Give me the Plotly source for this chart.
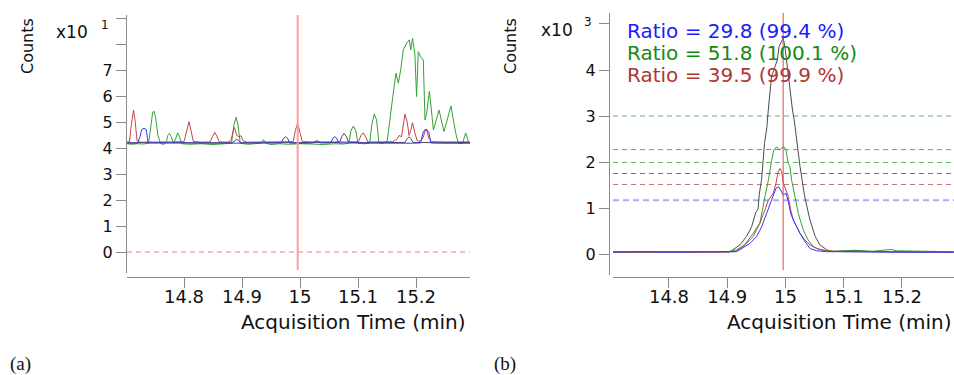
import plotly.graph_objects as go

# ---------------------------------------------------------------- data
# Panel (a): extracted ion chromatograms, Counts x10^1, time in minutes
a_black_t = [14.702, 14.74, 14.78, 14.82, 14.86, 14.884, 14.888, 14.891, 14.894, 14.898, 14.93,
             14.97, 15.01, 15.05, 15.068, 15.072, 15.076, 15.080, 15.084, 15.12, 15.16, 15.181,
             15.185, 15.188, 15.191, 15.195, 15.24, 15.293]
a_black_v = [4.22, 4.23, 4.22, 4.22, 4.23, 4.22, 4.30, 4.35, 4.30, 4.22, 4.22,
             4.23, 4.22, 4.22, 4.23, 4.45, 4.58, 4.45, 4.23, 4.22, 4.22, 4.23,
             4.38, 4.45, 4.38, 4.23, 4.22, 4.23]

a_blue_t = [14.702, 14.72, 14.724, 14.727, 14.731, 14.735, 14.738, 14.76, 14.80, 14.85, 14.90,
            14.94, 14.968, 14.971, 14.975, 14.979, 14.982, 15.00, 15.022, 15.026, 15.029, 15.032,
            15.036, 15.053, 15.057, 15.060, 15.063, 15.067, 15.10, 15.15, 15.19, 15.208, 15.212,
            15.215, 15.219, 15.222, 15.226, 15.25, 15.293]
a_blue_v = [4.20, 4.20, 4.45, 4.72, 4.78, 4.72, 4.21, 4.20, 4.21, 4.20, 4.21,
            4.20, 4.21, 4.38, 4.45, 4.38, 4.21, 4.20, 4.21, 4.27, 4.30, 4.27,
            4.21, 4.21, 4.40, 4.45, 4.40, 4.21, 4.20, 4.21, 4.20, 4.21, 4.60,
            4.72, 4.72, 4.62, 4.21, 4.20, 4.20]

a_green_t = [14.702, 14.71, 14.72, 14.73, 14.739, 14.743, 14.746, 14.748, 14.751, 14.755, 14.760,
             14.766, 14.770, 14.772, 14.775, 14.778, 14.782, 14.786, 14.789, 14.792, 14.796,
             14.81, 14.83, 14.85, 14.87, 14.882, 14.886, 14.890, 14.893, 14.897, 14.91, 14.925,
             14.933, 14.937, 14.941, 14.95, 14.965, 14.98, 15.00, 15.02, 15.04, 15.06, 15.075,
             15.084, 15.088, 15.092, 15.096, 15.100, 15.11, 15.120, 15.124, 15.128, 15.132,
             15.136, 15.142, 15.1505, 15.155, 15.160, 15.1655, 15.1695, 15.1736, 15.178, 15.184,
             15.1884, 15.191, 15.194, 15.198, 15.201, 15.204, 15.208, 15.2126, 15.2155, 15.2184,
             15.223, 15.226, 15.230, 15.2397, 15.2483, 15.2603, 15.2684, 15.273, 15.280, 15.2857,
             15.291]
a_green_v = [4.18, 4.16, 4.18, 4.17, 4.20, 4.90, 5.40, 5.44, 5.20, 4.50, 4.18,
             4.16, 4.30, 4.50, 4.58, 4.45, 4.20, 4.40, 4.60, 4.45, 4.18,
             4.16, 4.18, 4.15, 4.18, 4.20, 4.90, 5.20, 4.90, 4.20, 4.16, 4.18,
             4.20, 4.34, 4.20, 4.15, 4.18, 4.16, 4.18, 4.17, 4.15, 4.18, 4.17,
             4.20, 4.70, 4.86, 4.70, 4.20, 4.18, 4.20, 4.95, 5.32, 5.10,
             4.22, 4.18, 4.30, 5.17, 6.00, 6.90, 6.52, 7.03, 7.80, 8.07,
             8.19, 7.80, 8.25, 7.67, 6.00, 7.73, 7.54, 7.41, 5.10, 5.36,
             6.20, 5.60, 4.71, 5.48, 4.65, 5.64, 4.60, 4.20, 4.18, 4.60,
             4.20]

a_red_t = [14.702, 14.706, 14.709, 14.713, 14.716, 14.719, 14.725, 14.74, 14.76, 14.78, 14.800,
           14.804, 14.8086, 14.812, 14.816, 14.83, 14.845, 14.849, 14.853, 14.857, 14.861,
           14.875, 14.881, 14.885, 14.887, 14.891, 14.895, 14.898, 14.902, 14.908, 14.93, 14.95,
           14.97, 14.988, 14.992, 14.996, 15.000, 15.004, 15.02, 15.04, 15.06, 15.08, 15.101,
           15.105, 15.109, 15.113, 15.117, 15.14, 15.16, 15.167, 15.171, 15.175, 15.178, 15.181,
           15.185, 15.188, 15.191, 15.194, 15.198, 15.202, 15.207, 15.212, 15.216, 15.218, 15.222,
           15.226, 15.25, 15.27, 15.293]
a_red_v = [4.25, 4.26, 4.90, 5.48, 5.00, 4.30, 4.24, 4.25, 4.24, 4.25, 4.26,
           4.60, 5.03, 4.70, 4.27, 4.24, 4.25, 4.45, 4.62, 4.45, 4.25,
           4.24, 4.30, 4.70, 4.80, 4.50, 4.45, 4.49, 4.30, 4.24, 4.25, 4.24,
           4.25, 4.26, 4.70, 4.97, 4.60, 4.26, 4.25, 4.24, 4.25, 4.25, 4.26,
           4.50, 4.60, 4.45, 4.25, 4.25, 4.26, 4.35, 4.50, 4.45, 4.90, 5.32,
           5.00, 4.50, 4.70, 4.99, 4.60, 4.30, 4.27, 4.40, 4.70, 4.74, 4.40,
           4.26, 4.25, 4.24, 4.25]

# Panel (b): quantifier and qualifier ions, Counts x10^3
b_black_t = [14.704, 14.75, 14.80, 14.85, 14.905, 14.922, 14.928, 14.933, 14.939, 14.942, 14.949,
             14.953, 14.955, 14.959, 14.964, 14.968, 14.9705, 14.976, 14.982, 14.986, 14.989,
             14.9935, 14.996, 14.999, 15.003, 15.008, 15.012, 15.015, 15.019, 15.025, 15.033,
             15.042, 15.051, 15.059, 15.071, 15.082, 15.10, 15.12, 15.15, 15.20, 15.25, 15.289]
b_black_v = [0.04, 0.04, 0.05, 0.04, 0.05, 0.20, 0.30, 0.38, 0.52, 0.60, 0.90,
             0.98, 1.30, 1.62, 2.40, 2.75, 3.13, 3.85, 4.07, 4.22, 4.51,
             4.62, 4.69, 4.51, 4.07, 3.57, 3.13, 2.91, 2.50, 1.90, 1.25,
             0.74, 0.38, 0.20, 0.09, 0.05, 0.07, 0.08, 0.05, 0.05, 0.04, 0.04]

b_green_t = [14.704, 14.75, 14.80, 14.85, 14.90, 14.916, 14.933, 14.9447, 14.956, 14.9648,
             14.9705, 14.9763, 14.980, 14.985, 14.989, 14.9935, 14.9974, 15.0009, 15.0048,
             15.0077, 15.0106, 15.0163, 15.022, 15.0306, 15.0391, 15.0477, 15.0592, 15.08, 15.11,
             15.15, 15.175, 15.182, 15.19, 15.22, 15.25, 15.289]
b_green_v = [0.05, 0.05, 0.04, 0.05, 0.05, 0.09, 0.23, 0.38, 0.67, 1.25,
             1.60, 2.04, 2.26, 2.33, 2.26, 2.30, 2.33, 2.26, 1.97,
             1.90, 1.60, 1.25, 0.88, 0.52, 0.30, 0.16, 0.09, 0.06, 0.07,
             0.06, 0.08, 0.10, 0.07, 0.06, 0.05, 0.05]

b_red_t = [14.704, 14.75, 14.80, 14.85, 14.90, 14.915, 14.9276, 14.9447, 14.956, 14.9648,
           14.9705, 14.979, 14.9837, 14.9876, 14.9906, 14.9935, 14.9962, 15.0009, 15.0048,
           15.009, 15.0134, 15.0192, 15.0249, 15.0335, 15.042, 15.0536, 15.07, 15.10, 15.15,
           15.20, 15.25, 15.289]
b_red_v = [0.04, 0.04, 0.04, 0.04, 0.04, 0.06, 0.16, 0.45, 0.67, 0.96,
           1.17, 1.32, 1.54, 1.79, 1.86, 1.79, 1.54, 1.39, 1.25,
           0.96, 0.74, 0.59, 0.45, 0.30, 0.20, 0.12, 0.07, 0.05, 0.05,
           0.04, 0.04, 0.04]

b_blue_t = [14.704, 14.75, 14.80, 14.85, 14.90, 14.916, 14.939, 14.9505, 14.959, 14.9677,
            14.9734, 14.979, 14.9837, 14.9876, 14.9918, 14.9962, 15.0009, 15.0048, 15.009,
            15.0134, 15.0192, 15.0249, 15.0335, 15.042, 15.0536, 15.07, 15.10, 15.15, 15.20,
            15.25, 15.289]
b_blue_v = [0.04, 0.05, 0.04, 0.04, 0.04, 0.05, 0.23, 0.38, 0.59, 0.88,
            1.10, 1.25, 1.43, 1.46, 1.39, 1.28, 1.32, 1.14, 0.88,
            0.74, 0.59, 0.45, 0.27, 0.12, 0.07, 0.05, 0.05, 0.04, 0.04,
            0.04, 0.04]

retention_time = 14.996

# Qualifier tolerance windows (x10^3 counts) and ion-ratio captions
limit_green = [3.00, 1.99]
limit_red = [2.27, 1.51]
limit_blue = [1.75, 1.17]
ratio_labels = ["Ratio = 29.8 (99.4 %)", "Ratio = 51.8 (100.1 %)", "Ratio = 39.5 (99.9 %)"]

a_yticks = [0, 1, 2, 3, 4, 5, 6, 7, 8, 9]
a_yticktext = ["0", "1", "2", "3", "4", "5", "6", "7", "", ""]
b_yticks = [0, 1, 2, 3, 4, 5]
b_yticktext = ["0", "1", "2", "3", "4", ""]
xticks = [14.8, 14.9, 15.0, 15.1, 15.2]
xticktext = ["14.8", "14.9", "15", "15.1", "15.2"]

# ---------------------------------------------------------------- styling
W, H = 954, 375
BLACK = "#4a4a4a"
BLUE = "#3535ff"
GREEN = "#35a035"
RED = "#c04545"
AXIS = "#8a8a8a"
SANS = "DejaVu Sans"


def fx(p):
    return p / W


def fy(p):
    return 1 - p / H


fig = go.Figure()


def add_line(t, v, color, xa, ya, width=1.0):
    fig.add_trace(go.Scatter(x=t, y=v, mode="lines", xaxis=xa, yaxis=ya,
                             line=dict(color=color, width=width), hoverinfo="skip",
                             showlegend=False))


# panel (a)
add_line(a_green_t, a_green_v, GREEN, "x", "y")
add_line(a_red_t, a_red_v, RED, "x", "y")
add_line(a_black_t, a_black_v, BLACK, "x", "y")
add_line(a_blue_t, a_blue_v, BLUE, "x", "y")

# panel (b)
add_line(b_black_t, b_black_v, BLACK, "x2", "y2")
add_line(b_green_t, b_green_v, GREEN, "x2", "y2")
add_line(b_red_t, b_red_v, RED, "x2", "y2")
add_line(b_blue_t, b_blue_v, BLUE, "x2", "y2")

shapes = []
# panel (a): zero reference and retention-time marker
shapes.append(dict(type="line", xref="x domain", yref="y", x0=0, x1=1, y0=0, y1=0,
                   line=dict(color="#e08585", width=1, dash="5px,4px"), layer="below"))
shapes.append(dict(type="line", xref="x", yref="y", x0=retention_time, x1=retention_time,
                   y0=-0.695, y1=9.15, line=dict(color="#ff9c9c", width=2)))

# panel (b): tolerance windows
for val in limit_green:
    shapes.append(dict(type="line", xref="x2 domain", yref="y2", x0=0, x1=1, y0=val, y1=val,
                       line=dict(color="#5cb85c", width=1, dash="5px,4px"), layer="below"))
for val in limit_red:
    shapes.append(dict(type="line", xref="x2 domain", yref="y2", x0=0, x1=1, y0=val, y1=val,
                       line=dict(color="#d07070", width=1, dash="5px,4px"), layer="below"))
shapes.append(dict(type="line", xref="x2 domain", yref="y2", x0=0, x1=1, y0=limit_blue[0],
                   y1=limit_blue[0], line=dict(color="#6060ff", width=1, dash="5px,4px"), layer="below"))
shapes.append(dict(type="line", xref="x2 domain", yref="y2", x0=0, x1=1, y0=limit_blue[1],
                   y1=limit_blue[1], line=dict(color="#a8a8ff", width=2, dash="6px,4px"), layer="below"))
shapes.append(dict(type="line", xref="x2", yref="y2", x0=retention_time, x1=retention_time,
                   y0=-0.348, y1=5.24, line=dict(color="#e04848", width=1)))

annotations = []


def note(text, x, y, size, color="#111111", xanchor="center", family=SANS, angle=0):
    annotations.append(dict(text=text, x=fx(x), y=fy(y), xref="paper", yref="paper",
                            xanchor=xanchor, yanchor="middle", showarrow=False, borderpad=0,
                            textangle=angle, font=dict(family=family, size=size, color=color)))


for cx in (27, 510):
    note("Counts", cx, 46, 16, angle=-90)
note("x10", 72, 32, 17)
note("1", 105, 25, 12)
note("x10", 557, 30, 17)
note("3", 588, 22, 12)
note("Acquisition Time (min)", 353, 322, 20)
note("Acquisition Time (min)", 839, 322, 20)
note("(a)", 20, 364, 19, family="Liberation Serif")
note("(b)", 505, 364, 19, family="Liberation Serif")
for text, color, cy in zip(ratio_labels, ["#1a1aff", "#138a13", "#b03535"], [31, 52.5, 74.5]):
    note(text, 626, cy, 20, color=color, xanchor="left")

xaxis_common = dict(tickvals=xticks, ticktext=xticktext, ticks="outside", ticklen=10,
                    tickcolor=AXIS, showline=True, linecolor=AXIS, linewidth=1,
                    showgrid=False, zeroline=False, anchor="free", position=fy(277),
                    ticklabelstandoff=-7,
                    tickfont=dict(family=SANS, size=18, color="#111111"))
yaxis_common = dict(ticks="outside", ticklen=10, tickcolor=AXIS, showline=True,
                    linecolor=AXIS, linewidth=1, showgrid=False, zeroline=False,
                    anchor="free", tickfont=dict(family=SANS, size=16, color="#111111"))

fig.update_layout(
    width=W, height=H, margin=dict(l=0, r=0, t=0, b=0),
    paper_bgcolor="white", plot_bgcolor="white", showlegend=False,
    xaxis=dict(domain=[fx(127), fx(470)], range=[14.7017, 15.2931], **xaxis_common),
    yaxis=dict(domain=[fy(273), fy(15)], range=[-0.81, 9.15], position=fx(126),
               tickvals=a_yticks, ticktext=a_yticktext, **yaxis_common),
    xaxis2=dict(domain=[fx(613), 1.0], range=[14.7039, 15.2893], **xaxis_common),
    yaxis2=dict(domain=[fy(275), fy(13)], range=[-0.4565, 5.239], position=fx(609),
                tickvals=b_yticks, ticktext=b_yticktext, **yaxis_common),
    shapes=shapes, annotations=annotations,
)

fig.write_html("out.html", config=dict(displayModeBar=False))
